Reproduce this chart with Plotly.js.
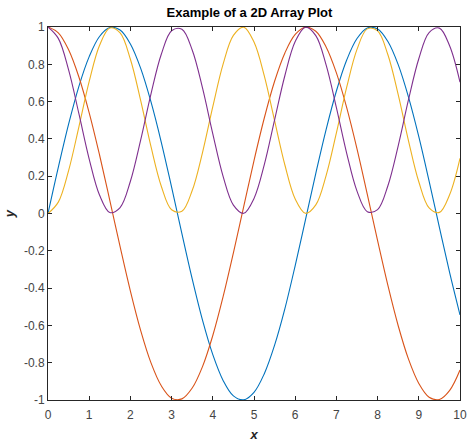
<!DOCTYPE html>
<html><head><meta charset="utf-8">
<script src="https://cdn.plot.ly/plotly-3.0.1.min.js"></script>
<style>html,body{margin:0;padding:0;background:#fff;}#chart{width:468px;height:444px;}</style>
</head><body><div id="chart"></div>
<script>
const xs = [0,0.25,0.5,0.75,1,1.25,1.5,1.75,2,2.25,2.5,2.75,3,3.25,3.5,3.75,4,4.25,4.5,4.75,5,5.25,5.5,5.75,6,6.25,6.5,6.75,7,7.25,7.5,7.75,8,8.25,8.5,8.75,9,9.25,9.5,9.75,10];
const blue = [0,0.247,0.479,0.682,0.841,0.949,0.997,0.984,0.909,0.778,0.598,0.382,0.141,-0.108,-0.351,-0.572,-0.757,-0.895,-0.978,-0.999,-0.959,-0.859,-0.706,-0.510,-0.279,-0.033,0.215,0.450,0.657,0.823,0.938,0.995,0.989,0.922,0.798,0.624,0.412,0.174,-0.075,-0.319,-0.544];
const orange = [1,0.969,0.878,0.732,0.540,0.315,0.071,-0.178,-0.416,-0.628,-0.801,-0.924,-0.990,-0.994,-0.936,-0.821,-0.654,-0.446,-0.211,0.037,0.284,0.512,0.709,0.861,0.960,0.999,0.977,0.893,0.754,0.568,0.347,0.103,-0.146,-0.386,-0.602,-0.781,-0.911,-0.985,-0.997,-0.948,-0.839];
const yellow = [0,0.061,0.230,0.465,0.708,0.901,0.995,0.968,0.827,0.605,0.358,0.146,0.020,0.012,0.123,0.327,0.573,0.801,0.955,0.999,0.919,0.738,0.498,0.260,0.078,0.001,0.046,0.203,0.432,0.677,0.880,0.990,0.979,0.851,0.637,0.390,0.170,0.030,0.006,0.102,0.296];
const purple = [1,0.939,0.770,0.535,0.292,0.099,0.005,0.032,0.173,0.395,0.642,0.854,0.980,0.988,0.877,0.673,0.427,0.199,0.045,0.001,0.081,0.262,0.502,0.740,0.922,0.999,0.954,0.797,0.568,0.323,0.120,0.010,0.021,0.149,0.363,0.610,0.830,0.970,0.994,0.898,0.704];
const xTickVals = [0,1,2,3,4,5,6,7,8,9,10];
const xTickText = ['0','1','2','3','4','5','6','7','8','9','10'];
const yTickVals = [-1,-0.8,-0.6,-0.4,-0.2,0,0.2,0.4,0.6,0.8,1];
const yTickText = ['-1','-0.8','-0.6','-0.4','-0.2','0','0.2','0.4','0.6','0.8','1'];
const seriesList = [blue, orange, yellow, purple];
const colors = ['#0072BD','#D95319','#EDB120','#7E2F8E'];

const traces = seriesList.map((s,i)=>({
  x: xs, y: s, type:'scatter', mode:'lines',
  line:{color:colors[i], width:1.1, shape:'spline', smoothing:1},
  hoverinfo:'skip'
}));

const axisCommon = {
  showline:true, linecolor:'#262626', linewidth:1, mirror:'allticks',
  ticks:'inside', ticklen:4, tickcolor:'#262626', tickwidth:1,
  showgrid:false, zeroline:false,
  tickfont:{family:'Liberation Sans, Arial, sans-serif', size:12, color:'#444'},
  fixedrange:true
};

const layout = {
  width:468, height:444,
  margin:{l:48, r:8, t:27, b:44},
  paper_bgcolor:'#fff', plot_bgcolor:'#fff',
  showlegend:false,
  title:{text:'<b>Example of a 2D Array Plot</b>', x:0.533, xanchor:'center', y:0.972, yanchor:'middle',
    font:{family:'Liberation Sans, Arial, sans-serif', size:13, color:'#000'}},
  xaxis:Object.assign({}, axisCommon, {range:[0,10], tickvals:xTickVals, ticktext:xTickText, ticklabelstandoff:4,
    title:{text:'<b><i>x</i></b>', standoff:8, font:{family:'Liberation Sans, Arial, sans-serif', size:13, color:'#262626'}}}),
  yaxis:Object.assign({}, axisCommon, {range:[-1,1], tickvals:yTickVals, ticktext:yTickText,
    title:{text:'<b><i>y</i></b>', standoff:6, font:{family:'Liberation Sans, Arial, sans-serif', size:13, color:'#262626'}}})
};

Plotly.newPlot('chart', traces, layout, {staticPlot:true, displayModeBar:false});
</script>
</body></html>
